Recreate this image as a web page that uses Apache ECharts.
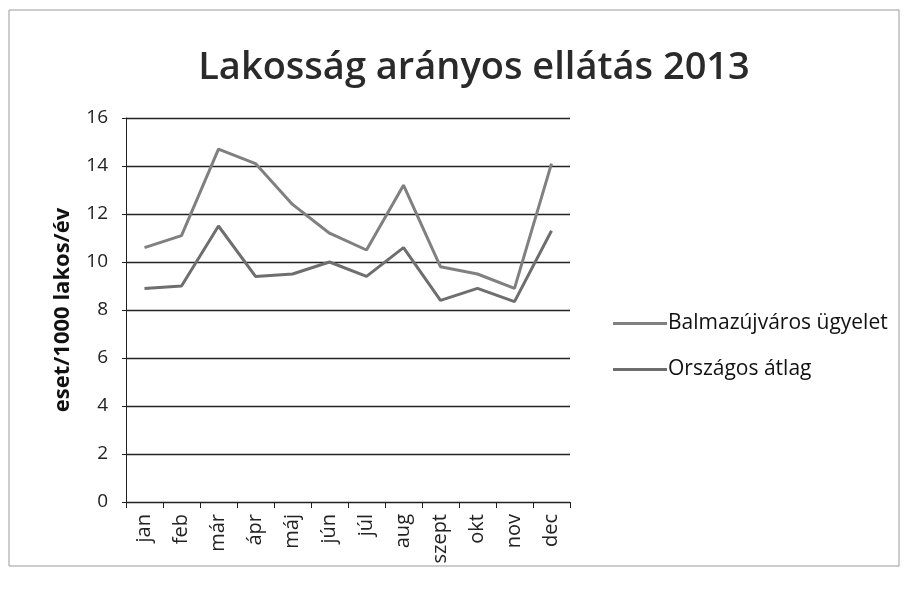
<!DOCTYPE html>
<html lang="hu">
<head>
  <meta charset="UTF-8">
  <title>Lakosság arányos ellátás 2013</title>
  <script src="https://cdn.jsdelivr.net/npm/echarts@6/dist/echarts.min.js"></script>
</head>
<body style="margin:0;background:#fff;">
<div id="chart" style="width:906px;height:592px;"></div>
<script>
  // data
  const months = ['jan', 'feb', 'már', 'ápr', 'máj', 'jún', 'júl', 'aug', 'szept', 'okt', 'nov', 'dec'];
  const balmaz = [10.6, 11.1, 14.7, 14.1, 12.4, 11.2, 10.5, 13.2, 9.8, 9.5, 8.9, 14.1];
  const orszagos = [8.9, 9.0, 11.5, 9.4, 9.5, 10.0, 9.4, 10.6, 8.4, 8.9, 8.35, 11.3];
  const seriesNames = ['Balmazújváros ügyelet', 'Országos átlag'];

  let chart = echarts.init(document.getElementById('chart'));
  let option = {
    backgroundColor: '#fff',
    animation: false,
    title: {
      text: 'Lakosság arányos ellátás 2013',
      left: 469,
      textAlign: 'center',
      top: 44,
      textStyle: {
        fontFamily: 'Open Sans',
        fontSize: 38,
        fontWeight: 600,
        color: '#2a2a2a'
      }
    },
    legend: {
      orient: 'vertical',
      left: 608,
      top: 308,
      itemGap: 25,
      itemWidth: 54,
      itemHeight: 3,
      icon: 'rect',
      textStyle: { fontFamily: 'Open Sans', fontSize: 21, color: '#111', padding: [0, 0, 0, -4] },
      data: seriesNames
    },
    grid: { left: 126, right: 336, top: 118, bottom: 90 },
    xAxis: {
      type: 'category',
      data: months,
      boundaryGap: true,
      axisLine: { lineStyle: { color: '#222', width: 1 } },
      axisTick: { show: true, length: 6, lineStyle: { color: '#222' } },
      axisLabel: { rotate: 90, fontFamily: 'Open Sans', fontSize: 20, color: '#222', margin: 12 }
    },
    yAxis: {
      type: 'value',
      min: 0,
      max: 16,
      interval: 2,
      name: 'eset/1000 lakos/év',
      nameLocation: 'middle',
      nameGap: 52,
      nameTextStyle: { fontFamily: 'Open Sans', fontSize: 22, fontWeight: 'bold', color: '#111' },
      axisLine: { show: true, lineStyle: { color: '#222', width: 1 } },
      axisTick: { show: true, length: 4, lineStyle: { color: '#222' } },
      axisLabel: { fontFamily: 'Open Sans', fontSize: 19, color: '#222', margin: 18 },
      splitLine: { lineStyle: { color: '#222', width: 1.3 } }
    },
    series: [
      {
        name: seriesNames[0],
        type: 'line',
        data: balmaz,
        symbol: 'none',
        lineStyle: { color: '#808080', width: 3 },
        itemStyle: { color: '#808080' }
      },
      {
        name: seriesNames[1],
        type: 'line',
        data: orszagos,
        symbol: 'none',
        lineStyle: { color: '#6e6e6e', width: 3 },
        itemStyle: { color: '#6e6e6e' }
      }
    ],
    graphic: [{
      type: 'rect',
      shape: { x: 9, y: 10, width: 890, height: 556 },
      style: { fill: 'none', stroke: '#999', lineWidth: 1 }
    }]
  };
  chart.setOption(option);
</script>
</body>
</html>
